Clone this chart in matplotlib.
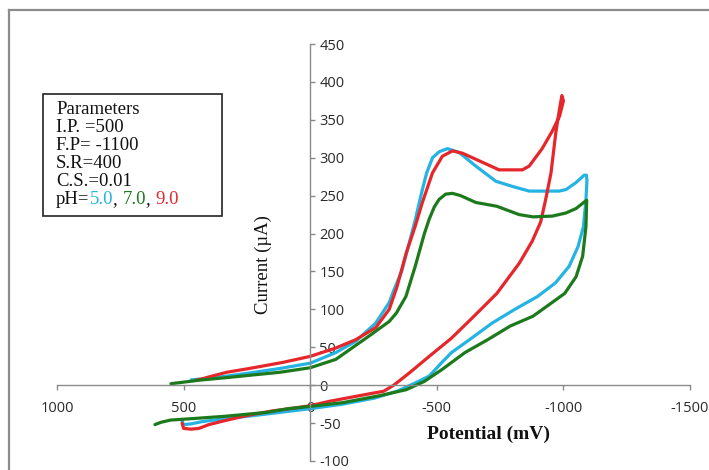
import matplotlib
matplotlib.use("Agg")
import matplotlib.pyplot as plt
from matplotlib.patches import Rectangle
from matplotlib.lines import Line2D

plt.rcParams["axes.unicode_minus"] = False

# ---- data (potential mV, current uA), loop: forward branch then return ----
ph5_x = [506, 500, 470, 426, 330, 247, 122, 0, -129, -254, -343, -415, -470, -520, -558, -629,
         -719, -808, -898, -969, -1023, -1058, -1079, -1089, -1093, -1091,
         -1082, -1049, -1010, -983, -920, -865, -800, -733, -654, -588, -542, -510, -483, -460,
         -443, -433, -415, -397, -361, -330, -312, -259, -180, -101, 0, 120, 241, 350, 451, 470]
ph5_y = [-47, -52, -51, -48, -44, -41, -36, -31, -25, -17, -8, 3, 12, 30, 43, 60,
         82, 100, 117, 135, 157, 183, 209, 244, 270, 277,
         277, 267, 258, 256, 256, 256, 262, 269, 289, 307, 312, 308, 300, 280,
         258, 244, 218, 195, 150, 125, 109, 82, 58, 43, 29, 22, 16, 11, 7.5, 7]

ph7_x = [613, 590, 551, 461, 336, 175, 86, 0, -129, -272, -379, -451, -522, -611, -701, -790,
         -880, -951, -1005, -1050, -1076, -1089, -1092,
         -1088, -1050, -1009, -956, -880, -825, -737, -654, -594, -562, -535, -509, -490, -470,
         -451, -415, -378, -340, -312, -233, -101, 0, 120, 241, 330, 438, 500, 550]
ph7_y = [-52, -49, -46, -44, -41, -36, -31, -28, -23, -14, -6, 5, 21, 43, 60, 78,
         91, 108, 121, 143, 170, 209, 244,
         243, 233, 227, 223, 222, 225, 236, 241, 250, 253, 252, 245, 235, 219,
         200, 157, 117, 95, 84, 65, 34, 23, 17, 13, 10, 6.6, 4, 2]

ph9_x = [506, 500, 470, 440, 400, 340, 250, 150, 60, 0, -80, -160, -240, -290, -330, -391,
         -470, -558, -647, -737, -826, -877, -910, -930, -951, -970, -985, -994,
         -1000, -985, -956, -916, -865, -838, -746, -667, -601, -562, -522, -483, -443,
         -415, -379, -343, -312, -259, -180, -101, 0, 109, 241, 330, 399, 430, 450]
ph9_y = [-50, -57, -58, -57, -52, -47, -40, -34, -30, -27, -21, -16, -11, -8, 0, 16,
         38, 62, 91, 121, 161, 190, 215, 245, 280, 333, 365, 382,
         375, 355, 335, 312, 289, 284, 284, 296, 306, 309, 302, 280, 241,
         210, 174, 130, 100, 76, 60, 49, 38, 30, 22, 17, 11, 8, 7]

series = [("5.0", ph5_x, ph5_y, "#25b3e4"),
          ("7.0", ph7_x, ph7_y, "#1c7a1c"),
          ("9.0", ph9_x, ph9_y, "#e5262b")]

x_ticks = [1000, 500, 0, -500, -1000, -1500]
y_ticks = [-100, -50, 0, 50, 100, 150, 200, 250, 300, 350, 400, 450]

param_lines = ["Parameters", "I.P. =500", "F.P= -1100", "S.R=400", "C.S.=0.01"]

W, H = 709, 470
fig = plt.figure(figsize=(W / 100, H / 100), dpi=100)
ax = fig.add_axes([57 / W, 9 / H, 633 / W, 417 / H])

for label, xs, ys, c in [series[0], series[2], series[1]]:
    ax.plot(xs, ys, color=c, lw=2.3, solid_joinstyle="round", solid_capstyle="round")

ax.set_xlim(1000, -1500)
ax.set_ylim(-100, 450)
ax.set_xticks(x_ticks)
ax.set_yticks(y_ticks)

spine_col = "#8a8a8a"
ax.spines["top"].set_visible(False)
ax.spines["left"].set_visible(False)
ax.spines["right"].set_position(("data", 0))
ax.spines["bottom"].set_position(("data", 0))
for s in ("right", "bottom"):
    ax.spines[s].set_color(spine_col)
    ax.spines[s].set_linewidth(1.0)
ax.yaxis.tick_right()
ax.tick_params(axis="y", direction="out", length=3.5, width=1, color=spine_col, pad=3,
               labelsize=10.5, labelcolor="#2a2a2a")
ax.tick_params(axis="x", direction="out", length=3.5, width=1, color=spine_col, pad=8,
               labelsize=10.5, labelcolor="#2a2a2a")
for lab in ax.get_xticklabels() + ax.get_yticklabels():
    lab.set_fontfamily("Open Sans")
ax.patch.set_visible(False)

# axis titles
fig.text(263 / W, 1 - 265 / H, "Current (\u00b5A)", rotation=90, ha="center", va="center",
         family="Liberation Serif", fontsize=13.5, color="#111111")
fig.text(488 / W, 1 - 434 / H, "Potential (mV)", ha="center", va="center",
         family="Liberation Serif", fontsize=14, fontweight="bold", color="#111111")

# chart-area border (clipped on right/bottom)
fig.add_artist(Line2D([9 / W, 9 / W], [1 - 10 / H, 0], transform=fig.transFigure,
                      color="#8c8c8c", lw=1.6))
fig.add_artist(Line2D([9 / W, 1], [1 - 10 / H, 1 - 10 / H], transform=fig.transFigure,
                      color="#8c8c8c", lw=1.6))

# parameter box
fig.add_artist(Rectangle((43 / W, 1 - 216 / H), 179 / W, 122 / H, transform=fig.transFigure,
                         facecolor="white", edgecolor="#222222", lw=1.2))
ys_px = [109, 127, 145, 163, 181]
for txt, yp in zip(param_lines, ys_px):
    fig.text(56 / W, 1 - yp / H, txt, ha="left", va="center", family="Liberation Serif",
             fontsize=13.5, color="#111111")

renderer = fig.canvas.get_renderer()
x_cur = 56 / W
y_ph = 1 - 200 / H
pieces = [("pH=", "#111111"), (series[0][0], series[0][3]), (", ", "#111111"),
          (series[1][0], series[1][3]), (", ", "#111111"), (series[2][0], series[2][3])]
for txt, col in pieces:
    t = fig.text(x_cur, y_ph, txt, ha="left", va="center", family="Liberation Serif",
                 fontsize=13.5, color=col)
    bb = t.get_window_extent(renderer=renderer)
    x_cur += bb.width / W

fig.savefig("out.png", dpi=100)
